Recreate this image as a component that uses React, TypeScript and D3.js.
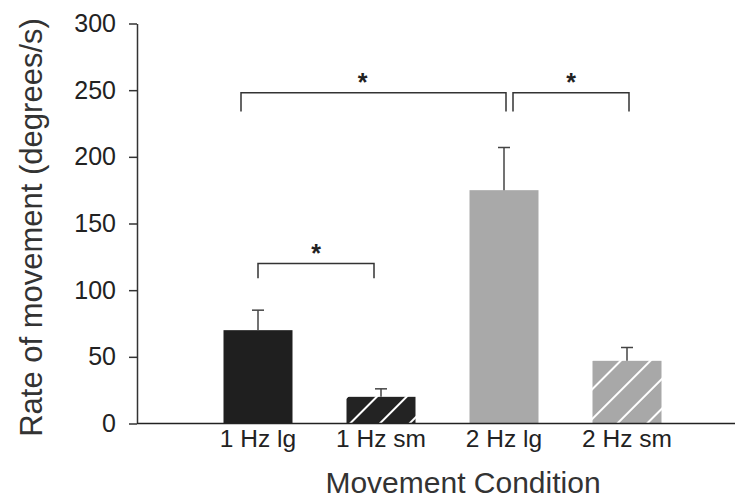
import React, {Component} from 'react';
import * as d3 from "d3"

const categories = ["1 Hz lg", "1 Hz sm", "2 Hz lg", "2 Hz sm"]
const means = [70, 20, 175, 47]
const errors = [15, 6, 32, 10]
const yTicks = [0, 50, 100, 150, 200, 250, 300]
// significance brackets: from / to category index, level of the bar and depth of the legs (in data units)
const brackets = [
  {from: 0, to: 2, level: 248, legs: 14},
  {from: 2, to: 3, level: 248, legs: 14},
  {from: 0, to: 1, level: 120, legs: 11},
]

interface ChartState {
  padding: {
    height: number,
    width: number,
    top: number,
    left: number,
    right: number,
    bottom: number,
  }
}

class BarChart extends Component<{}, ChartState> {
  svgRef = React.createRef<SVGSVGElement>()

  public constructor(props: {}) {
    super(props)
    this.state = {
      padding: {
        height: 500,
        width: 735,
        top: 23.5,
        left: 137,
        right: 0,
        bottom: 76.5,
      }
    }
  }

  renderChart() {
    const {padding} = this.state
    const font = "'Liberation Sans', Arial, sans-serif"
    const svg = d3.select(this.svgRef.current)
    svg.selectAll("*").remove()

    const yScale = d3.scaleLinear([0, 300], [padding.height - padding.bottom, padding.top])
    const xScale = d3.scalePoint(categories, [196.5, 688.5]).padding(0.5)
    const barWidth = 69

    const defs = svg.append("defs")
    const hatch = (id: string, fill: string) => {
      const p = defs.append("pattern")
        .attr("id", id)
        .attr("patternUnits", "userSpaceOnUse")
        .attr("width", 21)
        .attr("height", 21)
        .attr("patternTransform", "rotate(45)")
      p.append("rect").attr("width", 21).attr("height", 21).attr("fill", fill)
      p.append("line").attr("x1", 0).attr("y1", 0).attr("x2", 0).attr("y2", 21)
        .attr("stroke", "#fff").attr("stroke-width", 4)
    }
    hatch("hatchDark", "#232323")
    hatch("hatchGray", "#a8a8a8")
    const fills = ["#1f1f1f", "url(#hatchDark)", "#a9a9a9", "url(#hatchGray)"]

    // bars
    svg.append("g")
      .selectAll("rect")
      .data(means)
      .join("rect")
      .attr("x", (d, i) => (xScale(categories[i]) as number) - barWidth / 2)
      .attr("y", d => yScale(d))
      .attr("width", barWidth)
      .attr("height", d => yScale(0) - yScale(d))
      .attr("fill", (d, i) => fills[i])

    // error bars (upper only)
    const err = svg.append("g").attr("stroke", "#444").attr("stroke-width", 1.5)
    means.forEach((m, i) => {
      const cx = xScale(categories[i]) as number
      err.append("line").attr("x1", cx).attr("x2", cx)
        .attr("y1", yScale(m)).attr("y2", yScale(m + errors[i]))
      err.append("line").attr("x1", cx - 6).attr("x2", cx + 6)
        .attr("y1", yScale(m + errors[i])).attr("y2", yScale(m + errors[i]))
    })

    // y axis
    svg.append("g")
      .attr("transform", `translate(${padding.left},0)`)
      .call(d3.axisLeft(yScale).tickValues(yTicks).tickSize(8).tickPadding(13).tickSizeOuter(0))
      .call((g: any) => g.selectAll("line,path").attr("stroke", "#333").attr("stroke-width", 1.5))
      .call((g: any) => g.selectAll("text").attr("font-size", 25).attr("font-family", font).attr("fill", "#222"))

    // x axis
    svg.append("g")
      .attr("transform", `translate(0,${yScale(0)})`)
      .call((g: any) => g.append("line").attr("x1", padding.left).attr("x2", padding.width)
        .attr("stroke", "#222").attr("stroke-width", 1.5))
      .selectAll("text.cat")
      .data(categories)
      .join("text")
      .attr("class", "cat")
      .attr("x", (d: string) => xScale(d) as number)
      .attr("y", 23)
      .attr("text-anchor", "middle")
      .attr("font-size", 24.5)
      .attr("font-family", font)
      .attr("fill", "#222")
      .text((d: string) => d)

    // significance brackets
    const br = svg.append("g")
    brackets.forEach(b => {
      const x0 = b.from === 0 && b.to === 2 ? (xScale(categories[0]) as number) - 17 : (xScale(categories[b.from]) as number) + (b.from === 2 ? 9 : 0)
      const x1 = (xScale(categories[b.to]) as number) + (b.to === 1 ? -7 : 2)
      const yTop = yScale(b.level)
      const yLeg = yScale(b.level - b.legs)
      br.append("path")
        .attr("d", `M${x0},${yLeg}V${yTop}H${x1}V${yLeg}`)
        .attr("fill", "none").attr("stroke", "#333").attr("stroke-width", 1.5)
      br.append("text")
        .attr("x", (x0 + x1) / 2 - (b.to - b.from > 1 ? 11 : 0))
        .attr("y", yTop - 2)
        .attr("text-anchor", "middle")
        .attr("font-size", 25)
        .attr("font-weight", "bold")
        .attr("font-family", font)
        .attr("fill", "#222")
        .text("*")
    })

    // axis titles
    svg.append("text")
      .attr("transform", `translate(42,${(yScale(0) + yScale(300)) / 2 + 4}) rotate(-90)`)
      .attr("text-anchor", "middle")
      .attr("font-size", 31)
      .attr("font-family", font)
      .attr("fill", "#333")
      .text("Rate of movement (degrees/s)")

    svg.append("text")
      .attr("x", 463)
      .attr("y", 493)
      .attr("text-anchor", "middle")
      .attr("font-size", 30)
      .attr("font-family", font)
      .attr("fill", "#333")
      .text("Movement Condition")
  }

  componentDidMount() {
    this.renderChart()
  }

  public render(): JSX.Element {
    const {padding} = this.state
    return (
      <svg ref={this.svgRef} width={padding.width} height={padding.height}
        style={{display: "block", background: "#fff"}} />
    )
  }
}

export default function App() {
  return (
    <div style={{position: "absolute", left: 0, top: 0}}>
      <BarChart />
    </div>
  )
}
